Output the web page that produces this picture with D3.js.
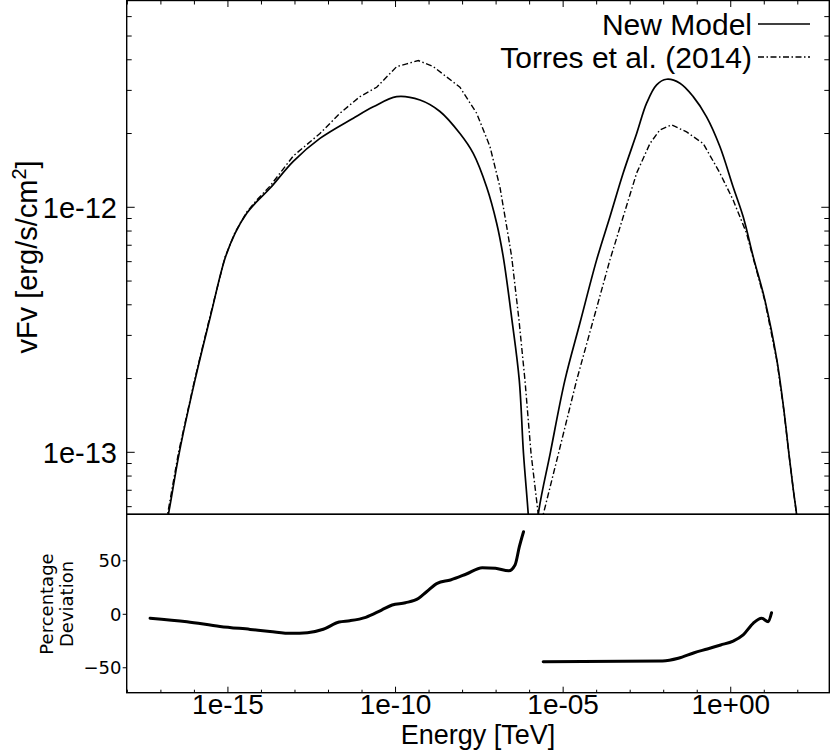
<!DOCTYPE html>
<html>
<head>
<meta charset="utf-8">
<script src="https://cdn.jsdelivr.net/npm/d3@7"></script>
<style>
  body { margin: 0; background: #fff; }
  svg { display: block; }
  .frame { fill: none; stroke: #000; stroke-width: 1.4; }
  .tick { stroke: #000; stroke-width: 1; }
  .lbl { font-family: 'Liberation Sans', Arial, sans-serif; fill: #000; }
  .dlbl { font-family: 'DejaVu Sans', sans-serif; fill: #000; }
</style>
</head>
<body>
<div id="chart"></div>
<script>
// ---- data ----
// synchrotron bump, new model
var newSynE = [1.24e-17, 1.67e-17, 3.55e-17, 1.04e-16, 2.92e-16, 8.2e-16, 1.63e-15, 3.64e-15, 7.23e-15, 1.80e-14, 8.9e-14, 5.56e-13, 5.5e-12, 2.17e-11, 1.08e-10, 5.36e-10, 2.12e-9, 8.35e-9, 2.08e-8, 5.22e-8, 1.04e-7, 1.63e-7, 2.97e-7, 4.91e-7, 6.55e-7, 9.1e-7, 1.1e-6];
var newSynF = [4.64e-14, 5.58e-14, 1.0e-13, 1.97e-13, 3.53e-13, 6.19e-13, 7.83e-13, 9.45e-13, 1.054e-12, 1.196e-12, 1.54e-12, 1.91e-12, 2.31e-12, 2.57e-12, 2.83e-12, 2.74e-12, 2.46e-12, 2.00e-12, 1.66e-12, 1.21e-12, 8.61e-13, 6.29e-13, 3.47e-13, 1.97e-13, 9.93e-14, 5.58e-14, 3.63e-14];
// synchrotron bump, Torres et al. (2014)
var torSynE = [1.16e-17, 1.58e-17, 3.36e-17, 1.01e-16, 2.83e-16, 8.2e-16, 1.63e-15, 3.64e-15, 7.23e-15, 1.80e-14, 8.9e-14, 5.56e-13, 2.2e-12, 8.7e-12, 2.74e-11, 1.08e-10, 2.15e-10, 4.78e-10, 1.34e-9, 8.35e-9, 2.63e-8, 6.56e-8, 1.30e-7, 2.07e-7, 2.91e-7, 4.81e-7, 7.26e-7, 1.10e-6, 1.81e-6, 2.19e-6];
var torSynF = [4.64e-14, 5.58e-14, 1.0e-13, 1.97e-13, 3.53e-13, 6.27e-13, 7.9e-13, 9.56e-13, 1.07e-12, 1.22e-12, 1.62e-12, 2.00e-12, 2.42e-12, 2.83e-12, 3.09e-12, 3.75e-12, 3.85e-12, 3.97e-12, 3.75e-12, 3.09e-12, 2.42e-12, 1.77e-12, 1.21e-12, 8.34e-13, 6.29e-13, 3.47e-13, 1.97e-13, 9.93e-14, 5.58e-14, 3.63e-14];
// inverse compton bump, new model
var newIcE = [1.44e-6, 1.81e-6, 4.17e-6, 1.13e-5, 3.17e-5, 9.98e-5, 2.49e-4, 6.19e-4, 1.56e-3, 3.09e-3, 6.15e-3, 1.22e-2, 3.05e-2, 7.59e-2, 0.19, 0.474, 1.18, 2.35, 4.67, 10.4, 23.8, 38.4, 54.1, 73.8, 91.8, 104];
var newIcF = [3.63e-14, 5.58e-14, 1.0e-13, 1.97e-13, 3.37e-13, 6.1e-13, 9.15e-13, 1.38e-12, 2.00e-12, 2.66e-12, 3.16e-12, 3.33e-12, 3.21e-12, 2.83e-12, 2.34e-12, 1.77e-12, 1.21e-12, 9.15e-13, 6.29e-13, 4.19e-13, 2.38e-13, 1.49e-13, 9.93e-14, 7.01e-14, 5.58e-14, 4.39e-14];
// inverse compton bump, Torres et al. (2014)
var torIcE = [2.03e-6, 2.55e-6, 7.4e-6, 2.53e-5, 7.94e-5, 2.49e-4, 6.19e-4, 1.56e-3, 3.88e-3, 7.71e-3, 1.72e-2, 4.82e-2, 0.151, 0.474, 1.18, 2.97, 4.67, 10.4, 23.8, 38.4, 54.1, 73.8, 91.8, 104];
var torIcF = [3.63e-14, 5.58e-14, 1.0e-13, 1.97e-13, 3.47e-13, 6.1e-13, 9.15e-13, 1.38e-12, 1.82e-12, 2.07e-12, 2.17e-12, 2.03e-12, 1.82e-12, 1.38e-12, 1.07e-12, 7.83e-13, 6.2e-13, 4.15e-13, 2.36e-13, 1.48e-13, 9.9e-14, 7.0e-14, 5.58e-14, 4.39e-14];
// percentage deviation, low and high energy pieces
var devLoE = [4.75e-18, 6.0e-17, 5.8e-16, 4.6e-15, 1.8e-14, 7.89e-14, 2.35e-13, 7.0e-13, 2.08e-12, 4.32e-12, 1.29e-11, 3.83e-11, 7.94e-11, 1.97e-10, 4.9e-10, 8.43e-10, 1.75e-9, 4.36e-9, 1.30e-8, 3.86e-8, 9.57e-8, 2.39e-7, 3.67e-7, 4.94e-7, 6.59e-7];
var devLoV = [-3.7, -7.0, -11.3, -14.1, -16.0, -17.8, -17.2, -14.0, -7.2, -6.0, -2.8, 4.0, 8.7, 10.8, 15.0, 21.1, 29.0, 32.1, 37.7, 43.6, 43.0, 40.7, 46.1, 63.2, 77.2];
var devHiE = [2.54e-6, 9.16e-3, 2.73e-2, 8.13e-2, 0.201, 0.501, 1.18, 2.35, 4.67, 8.32, 13.1, 16.5];
var devHiV = [-44.3, -43.6, -41.1, -35.9, -32.4, -28.7, -25.0, -19.3, -8.4, -3.7, -6.9, 1.5];

// ticks
var xTickVals = [1e-15, 1e-10, 1e-5, 1];
var xTickLabels = ['1e-15', '1e-10', '1e-05', '1e+00'];
var yTickVals = [1e-13, 1e-12];
var yTickLabels = ['1e-13', '1e-12'];
var devTickVals = [-50, 0, 50];
var devTickLabels = ['\u221250', '0', '50'];

// ---- layout ----
var W = 831, H = 750,
	left = 126.7, right = 829.3,
	topY = 0.5, midY = 514.3, botY = 692.7;

var x = d3.scaleLog().domain([Math.pow(10, -18.02), Math.pow(10, 2.94)]).range([left, right]),
	y = d3.scaleLog().domain([Math.pow(10, -13.253), Math.pow(10, -11.154)]).range([midY, 0]),
	yd = d3.scaleLinear().domain([-73.3, 93.5]).range([botY, midY]);

var svg = d3.select('#chart').append('svg')
	.attr('width', W)
	.attr('height', H);

var defs = svg.append('defs');
defs.append('clipPath').attr('id', 'clipTop')
	.append('rect').attr('x', left).attr('y', 0).attr('width', right - left).attr('height', midY);
defs.append('clipPath').attr('id', 'clipBot')
	.append('rect').attr('x', left).attr('y', midY).attr('width', right - left).attr('height', botY - midY);

function zip(a, b) { return a.map(function (d, i) { return [d, b[i]]; }); }

// ---- ticks ----
var decades = d3.range(-18, 3).map(function (e) { return Math.pow(10, e); });
function isMajor(v) { return xTickVals.some(function (t) { return Math.abs(Math.log10(t) - Math.log10(v)) < 1e-6; }); }

var ticks = svg.append('g');
// top edge of upper panel, pointing down
decades.forEach(function (v) {
	ticks.append('line').attr('class', 'tick')
		.attr('x1', x(v)).attr('x2', x(v))
		.attr('y1', topY).attr('y2', topY + (isMajor(v) ? 6.5 : 4));
});
// bottom edge of lower panel, pointing up
decades.forEach(function (v) {
	ticks.append('line').attr('class', 'tick')
		.attr('x1', x(v)).attr('x2', x(v))
		.attr('y1', botY).attr('y2', botY - (isMajor(v) ? 6 : 3));
});
// upper panel y ticks, both sides, inward
var yMinor = [];
[-14, -13, -12].forEach(function (e) {
	d3.range(1, 10).forEach(function (k) {
		var v = k * Math.pow(10, e);
		if (y(v) >= 0 && y(v) <= midY) yMinor.push(v);
	});
});
yMinor.forEach(function (v) {
	var len = yTickVals.indexOf(v) >= 0 ? 8 : 5;
	ticks.append('line').attr('class', 'tick')
		.attr('x1', left).attr('x2', left + len).attr('y1', y(v)).attr('y2', y(v));
	ticks.append('line').attr('class', 'tick')
		.attr('x1', right).attr('x2', right - len).attr('y1', y(v)).attr('y2', y(v));
});
// lower panel y ticks, outward
devTickVals.forEach(function (v) {
	ticks.append('line').attr('class', 'tick')
		.attr('x1', left - 4).attr('x2', left).attr('y1', yd(v)).attr('y2', yd(v));
});

// ---- curves ----
var line = d3.line()
	.x(function (d) { return x(d[0]); })
	.y(function (d) { return y(d[1]); })
	.curve(d3.curveCatmullRom.alpha(0.5));
var dashLine = d3.line()
	.x(function (d) { return x(d[0]); })
	.y(function (d) { return y(d[1]); });
var devLine = d3.line()
	.x(function (d) { return x(d[0]); })
	.y(function (d) { return yd(d[1]); })
	.curve(d3.curveMonotoneX);

var upper = svg.append('g').attr('clip-path', 'url(#clipTop)');
[zip(newSynE, newSynF), zip(newIcE, newIcF)].forEach(function (s) {
	upper.append('path').attr('d', line(s))
		.attr('fill', 'none').attr('stroke', '#000').attr('stroke-width', 1.7);
});
[zip(torSynE, torSynF), zip(torIcE, torIcF)].forEach(function (s) {
	upper.append('path').attr('d', dashLine(s))
		.attr('fill', 'none').attr('stroke', '#000').attr('stroke-width', 1.4)
		.attr('stroke-dasharray', '6,2.5,1.5,2.5');
});

var lower = svg.append('g').attr('clip-path', 'url(#clipBot)');
[zip(devLoE, devLoV), zip(devHiE, devHiV)].forEach(function (s) {
	lower.append('path').attr('d', devLine(s))
		.attr('fill', 'none').attr('stroke', '#000').attr('stroke-width', 3)
		.attr('stroke-linecap', 'round');
});

// ---- frames ----
svg.append('rect').attr('class', 'frame')
	.attr('x', left).attr('y', topY).attr('width', right - left).attr('height', midY - topY);
svg.append('rect').attr('class', 'frame')
	.attr('x', left).attr('y', midY).attr('width', right - left).attr('height', botY - midY);

// ---- labels ----
xTickVals.forEach(function (v, i) {
	svg.append('text').attr('class', 'lbl')
		.attr('x', x(v)).attr('y', 713.5)
		.attr('text-anchor', 'middle').attr('font-size', 28)
		.text(xTickLabels[i]);
});
yTickVals.forEach(function (v, i) {
	svg.append('text').attr('class', 'lbl')
		.attr('x', 117).attr('y', y(v)).attr('dy', '0.36em')
		.attr('text-anchor', 'end').attr('font-size', 29)
		.text(yTickLabels[i]);
});
devTickVals.forEach(function (v, i) {
	svg.append('text').attr('class', 'dlbl')
		.attr('x', 121.5).attr('y', yd(v)).attr('dy', '0.36em')
		.attr('text-anchor', 'end').attr('font-size', 18)
		.text(devTickLabels[i]);
});

svg.append('text').attr('class', 'lbl')
	.attr('x', 478).attr('y', 744)
	.attr('text-anchor', 'middle').attr('font-size', 27)
	.text('Energy [TeV]');

var yl = svg.append('text').attr('class', 'lbl')
	.attr('transform', 'translate(37,257) rotate(-90)')
	.attr('text-anchor', 'middle').attr('font-size', 29);
yl.append('tspan').text('vFv [erg/s/cm');
yl.append('tspan').attr('dy', -11).attr('font-size', 20).text('2');
yl.append('tspan').attr('dy', 11).text(']');

var dl = svg.append('text').attr('class', 'dlbl')
	.attr('transform', 'translate(0,604) rotate(-90)')
	.attr('text-anchor', 'middle').attr('font-size', 18);
dl.append('tspan').attr('x', 0).attr('y', 53).text('Percentage');
dl.append('tspan').attr('x', 0).attr('y', 73).text('Deviation');

// ---- legend ----
var legend = [
	{ name: 'New Model', dash: null, y: 24 },
	{ name: 'Torres et al. (2014)', dash: '6,2.5,1.5,2.5', y: 57 }
];
legend.forEach(function (d) {
	svg.append('text').attr('class', 'lbl')
		.attr('x', 752).attr('y', d.y).attr('dy', '0.36em')
		.attr('text-anchor', 'end').attr('font-size', 30)
		.text(d.name);
	svg.append('line')
		.attr('x1', 758).attr('x2', 810).attr('y1', d.y).attr('y2', d.y)
		.attr('stroke', '#000').attr('stroke-width', d.dash ? 1.4 : 1.7)
		.attr('stroke-dasharray', d.dash);
});
</script>
</body>
</html>
